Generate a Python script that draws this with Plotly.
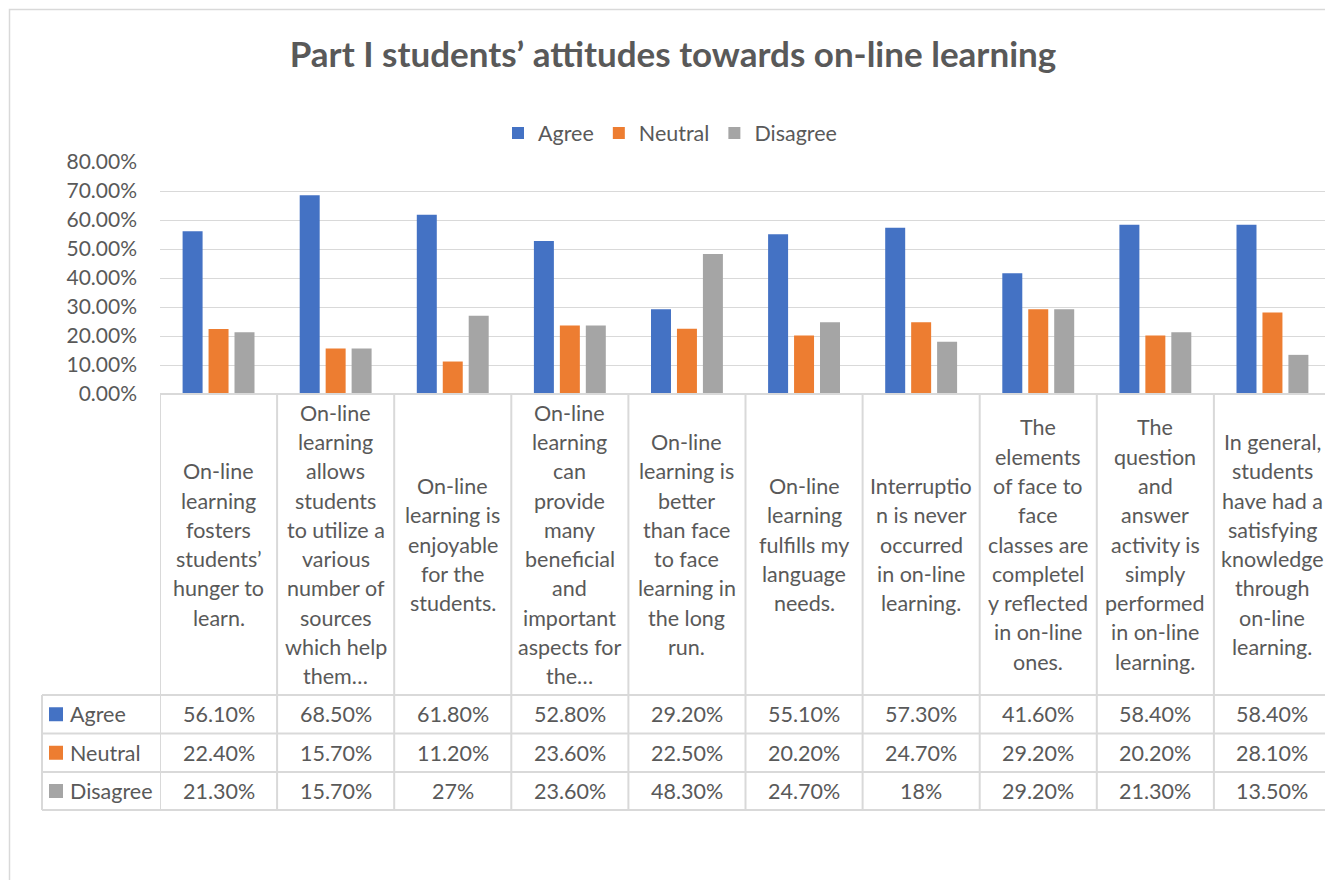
import plotly.graph_objects as go

# ---------------- data ----------------
categories = [
    "On-line<br>learning<br>fosters<br>students’<br>hunger to<br>learn.",
    "On-line<br>learning<br>allows<br>students<br>to utilize a<br>various<br>number of<br>sources<br>which help<br>them…",
    "On-line<br>learning is<br>enjoyable<br>for the<br>students.",
    "On-line<br>learning<br>can<br>provide<br>many<br>beneficial<br>and<br>important<br>aspects for<br>the…",
    "On-line<br>learning is<br>better<br>than face<br>to face<br>learning in<br>the long<br>run.",
    "On-line<br>learning<br>fulfills my<br>language<br>needs.",
    "Interruptio<br>n is never<br>occurred<br>in on-line<br>learning.",
    "The<br>elements<br>of face to<br>face<br>classes are<br>completel<br>y reflected<br>in on-line<br>ones.",
    "The<br>question<br>and<br>answer<br>activity is<br>simply<br>performed<br>in on-line<br>learning.",
    "In general,<br>students<br>have had a<br>satisfying<br>knowledge<br>through<br>on-line<br>learning.",
]
series_names = ["Agree", "Neutral", "Disagree"]
agree = [56.1, 68.5, 61.8, 52.8, 29.2, 55.1, 57.3, 41.6, 58.4, 58.4]
neutral = [22.4, 15.7, 11.2, 23.6, 22.5, 20.2, 24.7, 29.2, 20.2, 28.1]
disagree = [21.3, 15.7, 27.0, 23.6, 48.3, 24.7, 18.0, 29.2, 21.3, 13.5]
title_text = "Part I students’ attitudes towards on-line learning"

# ---------------- style ----------------
W, H = 1325, 880
FONT = "Lato"
TXT = "#595959"
GRID = "#d9d9d9"
colors = ["#4472C4", "#ED7D31", "#A5A5A5"]
series_values = [agree, neutral, disagree]


def px_x(p):
    return p / W


def px_y(p):
    return 1 - p / H


PLOT_L, PLOT_T, PLOT_B = 160, 162, 394
ROW_LINES = [695, 733.5, 772, 810]
TABLE_LEFT = 42
LINE_H = 29.3
FS = 21.5

fig = go.Figure()
for name, vals, col in zip(series_names, series_values, colors):
    fig.add_trace(go.Bar(
        x=categories, y=vals, name=name, marker=dict(color=col, line=dict(width=0)),
        hovertemplate="%{y:.2f}%<extra>" + name + "</extra>",
    ))

ncat = len(categories)
cat_w = 117.1
x_end = -0.5 + (W - PLOT_L) / cat_w

annotations = []
shapes = []

# category label lines (inside the data table)
label_center = (PLOT_B + ROW_LINES[0]) / 2
for i, lab in enumerate(categories):
    lines = lab.split("<br>")
    n = len(lines)
    for j, ln in enumerate(lines):
        ypx = label_center + (j - (n - 1) / 2) * LINE_H
        annotations.append(dict(
            x=i, xref="x", y=px_y(ypx), yref="paper", text=ln, showarrow=False,
            xanchor="center", yanchor="middle",
            font=dict(family=FONT, size=FS, color=TXT),
        ))

# value rows
for r, (name, vals, col) in enumerate(zip(series_names, series_values, colors)):
    ycen = (ROW_LINES[r] + ROW_LINES[r + 1]) / 2
    for i, v in enumerate(vals):
        s = f"{int(round(v))}%" if abs(v - round(v)) < 1e-9 else f"{v:.2f}%"
        annotations.append(dict(
            x=i, xref="x", y=px_y(ycen), yref="paper", text=s, showarrow=False,
            xanchor="center", yanchor="middle",
            font=dict(family=FONT, size=FS, color=TXT),
        ))
    # row header: key + name
    shapes.append(dict(type="rect", xref="paper", yref="paper",
                       x0=px_x(49), x1=px_x(63), y0=px_y(ycen - 7), y1=px_y(ycen + 7),
                       fillcolor=col, line=dict(width=0)))
    annotations.append(dict(
        x=px_x(68), xref="paper", y=px_y(ycen), yref="paper", text=name, showarrow=False,
        xanchor="left", yanchor="middle",
        font=dict(family=FONT, size=FS, color=TXT),
    ))

# table grid: vertical lines at category boundaries
for k in range(ncat + 1):
    xb = k - 0.5
    if xb > x_end:
        break
    shapes.append(dict(type="line", xref="x", yref="paper", x0=xb, x1=xb,
                       y0=px_y(PLOT_B), y1=px_y(ROW_LINES[-1]),
                       line=dict(color=GRID, width=2)))
# table left edge (row headers)
shapes.append(dict(type="line", xref="paper", yref="paper", x0=px_x(TABLE_LEFT), x1=px_x(TABLE_LEFT),
                   y0=px_y(ROW_LINES[0]), y1=px_y(ROW_LINES[-1]), line=dict(color=GRID, width=2)))
# table horizontal lines
for yl in ROW_LINES:
    shapes.append(dict(type="line", xref="paper", yref="paper", x0=px_x(TABLE_LEFT), x1=1.0,
                       y0=px_y(yl), y1=px_y(yl), line=dict(color=GRID, width=2)))
shapes.append(dict(type="line", xref="paper", yref="paper", x0=px_x(PLOT_L), x1=1.0,
                   y0=px_y(PLOT_B), y1=px_y(PLOT_B), line=dict(color=GRID, width=2)))
# chart area border
shapes.append(dict(type="rect", xref="paper", yref="paper", x0=px_x(9.5), x1=1.05,
                   y0=-0.05, y1=px_y(9.5), line=dict(color=GRID, width=1.5),
                   fillcolor="rgba(0,0,0,0)", layer="below"))

fig.update_layout(
    width=W, height=H,
    margin=dict(l=0, r=0, t=0, b=0),
    paper_bgcolor="white", plot_bgcolor="white",
    font=dict(family=FONT, color=TXT),
    title=dict(text="<b>" + title_text + "</b>", x=px_x(673), xanchor="center",
               y=px_y(55), yanchor="middle", xref="paper", yref="paper",
               font=dict(family=FONT, size=35, color=TXT)),
    legend=dict(orientation="h", x=px_x(670), xanchor="center", y=px_y(133), yanchor="middle",
                font=dict(family=FONT, size=FS, color=TXT), bgcolor="rgba(0,0,0,0)"),
    bargap=0.335, bargroupgap=0.23,
    xaxis=dict(domain=[px_x(PLOT_L), 1.0], range=[-0.5, x_end], showticklabels=False,
               showgrid=False, zeroline=False, showline=False, ticks="", automargin=False,
               fixedrange=True),
    yaxis=dict(domain=[px_y(PLOT_B), px_y(PLOT_T)], range=[0, 80], dtick=10,
               tickformat=".2f", ticksuffix="%", showgrid=True, gridcolor=GRID, gridwidth=1.3,
               zeroline=False, showline=False, ticks="", ticklabelstandoff=22,
               tickfont=dict(family=FONT, size=21, color=TXT), automargin=False,
               fixedrange=True),
    annotations=annotations,
    shapes=shapes,
)

fig.write_html("out.html", config={"displayModeBar": False},
               post_script="document.body.style.margin='0px';document.body.style.overflow='hidden';")
